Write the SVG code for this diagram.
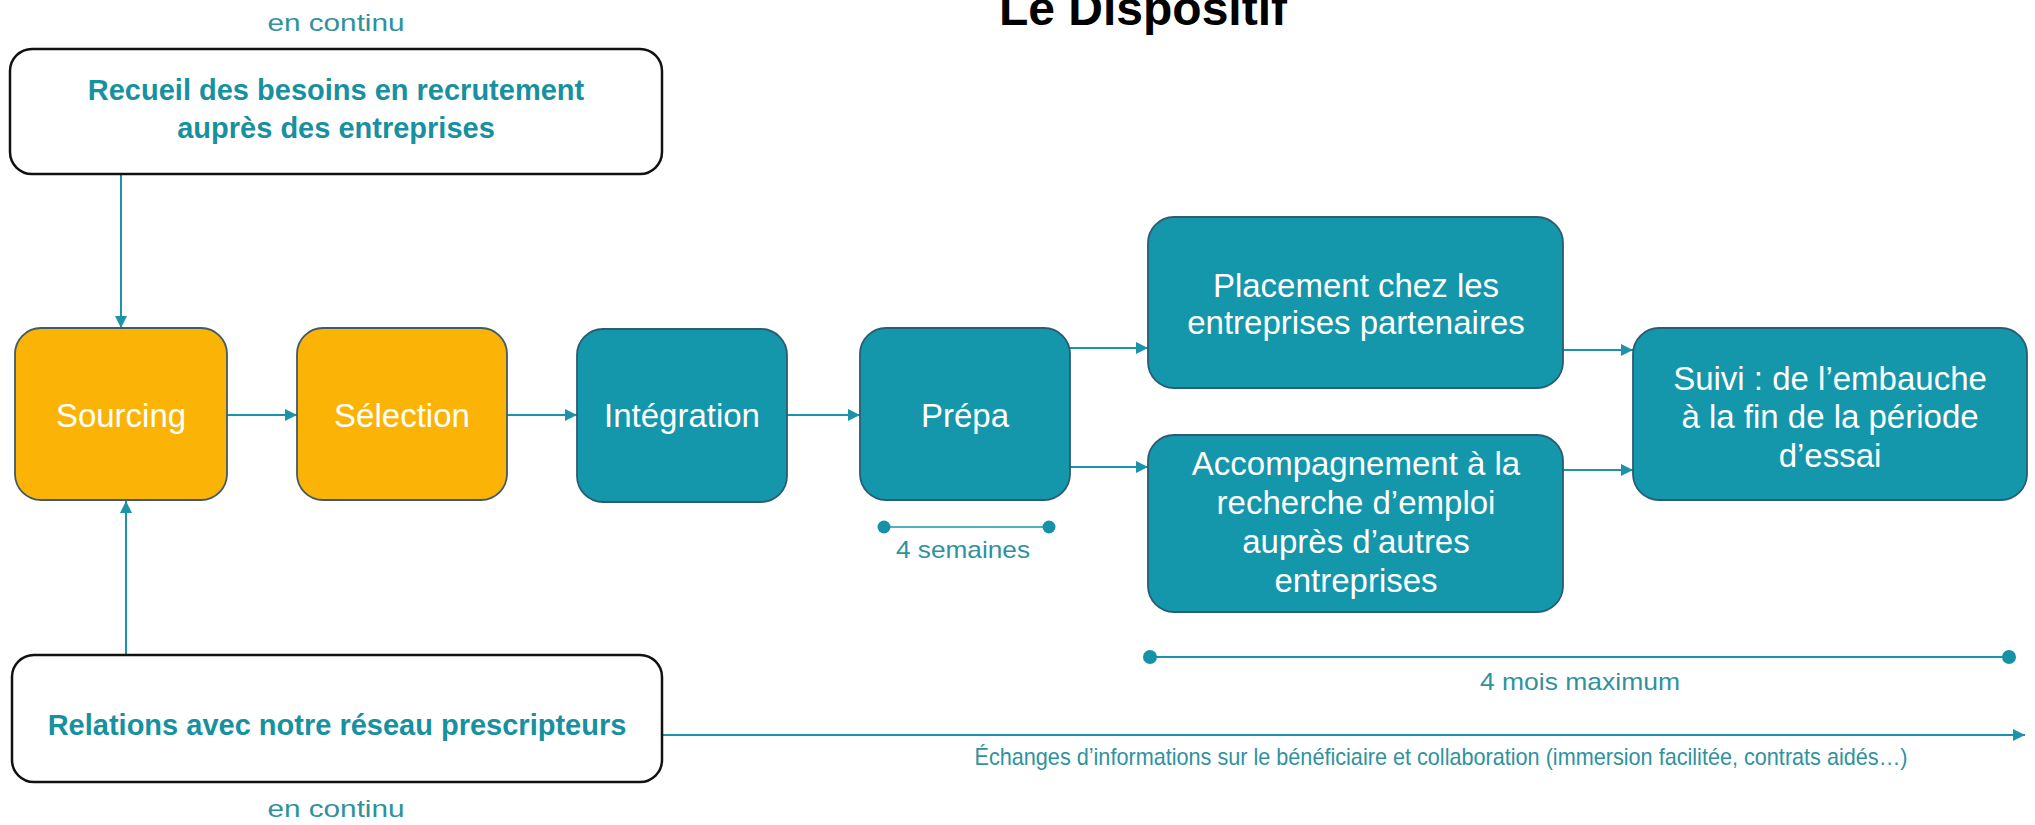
<svg xmlns="http://www.w3.org/2000/svg" width="2035" height="825" viewBox="0 0 2035 825">
<defs>
<marker id="arr" viewBox="0 0 10 10" refX="10" refY="5" markerWidth="12" markerHeight="12" markerUnits="userSpaceOnUse" orient="auto">
<path d="M0,0 L10,5 L0,10 z" fill="#1b93aa"/>
</marker>
<style>
.wbox{fill:#ffffff;stroke:#111111;stroke-width:2.5}
.obox{fill:#fbb406;stroke:#3f5a68;stroke-width:1.8}
.tbox{fill:#1496ab;stroke:#2a5c73;stroke-width:1.8}
.lbl{font-family:"Liberation Sans",Arial,sans-serif;font-size:33px;fill:#ffffff;text-anchor:middle}
.blbl{font-family:"Liberation Sans",Arial,sans-serif;font-size:29px;font-weight:bold;fill:#17909f;text-anchor:middle}
.note{font-family:"Liberation Sans",Arial,sans-serif;font-size:24px;fill:#2f929d;text-anchor:middle}
.con{stroke:#1b93aa;stroke-width:2;fill:none}
.dot{fill:#1592a8}
</style>
</defs>
<rect width="2035" height="825" fill="#ffffff"/>

<text x="1143" y="25" font-family="'Liberation Sans',Arial,sans-serif" font-size="48" font-weight="bold" fill="#000000" text-anchor="middle">Le Dispositif</text>

<g id="connectors">
<line class="con" x1="121" y1="175" x2="121" y2="328" marker-end="url(#arr)"/>
<line class="con" x1="126" y1="655" x2="126" y2="501" marker-end="url(#arr)"/>
<line class="con" x1="227" y1="415" x2="297" y2="415" marker-end="url(#arr)"/>
<line class="con" x1="507" y1="415" x2="577" y2="415" marker-end="url(#arr)"/>
<line class="con" x1="787" y1="415" x2="860" y2="415" marker-end="url(#arr)"/>
<line class="con" x1="1070" y1="348" x2="1148" y2="348" marker-end="url(#arr)"/>
<line class="con" x1="1070" y1="467" x2="1148" y2="467" marker-end="url(#arr)"/>
<line class="con" x1="1563" y1="350" x2="1633" y2="350" marker-end="url(#arr)"/>
<line class="con" x1="1563" y1="470" x2="1633" y2="470" marker-end="url(#arr)"/>
<line class="con" x1="662" y1="735" x2="2025" y2="735" stroke-width="1.5" marker-end="url(#arr)"/>
</g>

<g id="duree-prepa">
<line x1="884" y1="527" x2="1049" y2="527" stroke="#1b93aa" stroke-width="1.5"/>
<circle class="dot" cx="884" cy="527" r="6.5"/>
<circle class="dot" cx="1049" cy="527" r="6.5"/>
<text class="note" x="963" y="558" textLength="134" lengthAdjust="spacingAndGlyphs">4 semaines</text>
</g>

<g id="duree-suivi">
<line x1="1150" y1="657" x2="2009" y2="657" stroke="#1b93aa" stroke-width="2"/>
<circle class="dot" cx="1150" cy="657" r="7"/>
<circle class="dot" cx="2009" cy="657" r="7"/>
<text class="note" x="1580" y="690" textLength="200" lengthAdjust="spacingAndGlyphs">4 mois maximum</text>
</g>

<g id="echanges">
<text class="note" x="1441" y="765" font-size="22" textLength="933" lengthAdjust="spacingAndGlyphs">Échanges d’informations sur le bénéficiaire et collaboration (immersion facilitée, contrats aidés…)</text>
</g>

<g id="recueil">
<text class="note" x="336" y="31" font-size="27" textLength="137" lengthAdjust="spacingAndGlyphs">en continu</text>
<rect class="wbox" x="10" y="49" width="652" height="125" rx="22"/>
<text class="blbl" x="336" y="100">Recueil des besoins en recrutement</text>
<text class="blbl" x="336" y="138">auprès des entreprises</text>
</g>

<g id="relations">
<rect class="wbox" x="12" y="655" width="650" height="127" rx="22"/>
<text class="blbl" x="337" y="735">Relations avec notre réseau prescripteurs</text>
<text class="note" x="336" y="817" font-size="27" textLength="137" lengthAdjust="spacingAndGlyphs">en continu</text>
</g>

<g id="sourcing">
<rect class="obox" x="15" y="328" width="212" height="172" rx="26"/>
<text class="lbl" x="121" y="427">Sourcing</text>
</g>

<g id="selection">
<rect class="obox" x="297" y="328" width="210" height="172" rx="26"/>
<text class="lbl" x="402" y="427">Sélection</text>
</g>

<g id="integration">
<rect class="tbox" x="577" y="329" width="210" height="173" rx="26"/>
<text class="lbl" x="682" y="427">Intégration</text>
</g>

<g id="prepa">
<rect class="tbox" x="860" y="328" width="210" height="172" rx="26"/>
<text class="lbl" x="965" y="427">Prépa</text>
</g>

<g id="placement">
<rect class="tbox" x="1148" y="217" width="415" height="171" rx="26"/>
<text class="lbl" x="1356" y="297">Placement chez les</text>
<text class="lbl" x="1356" y="334">entreprises partenaires</text>
</g>

<g id="accompagnement">
<rect class="tbox" x="1148" y="435" width="415" height="177" rx="26"/>
<text class="lbl" x="1356" y="475">Accompagnement à la</text>
<text class="lbl" x="1356" y="514">recherche d’emploi</text>
<text class="lbl" x="1356" y="553">auprès d’autres</text>
<text class="lbl" x="1356" y="592">entreprises</text>
</g>

<g id="suivi">
<rect class="tbox" x="1633" y="328" width="394" height="172" rx="26"/>
<text class="lbl" x="1830" y="390">Suivi : de l’embauche</text>
<text class="lbl" x="1830" y="428">à la fin de la période</text>
<text class="lbl" x="1830" y="467">d’essai</text>
</g>
</svg>
